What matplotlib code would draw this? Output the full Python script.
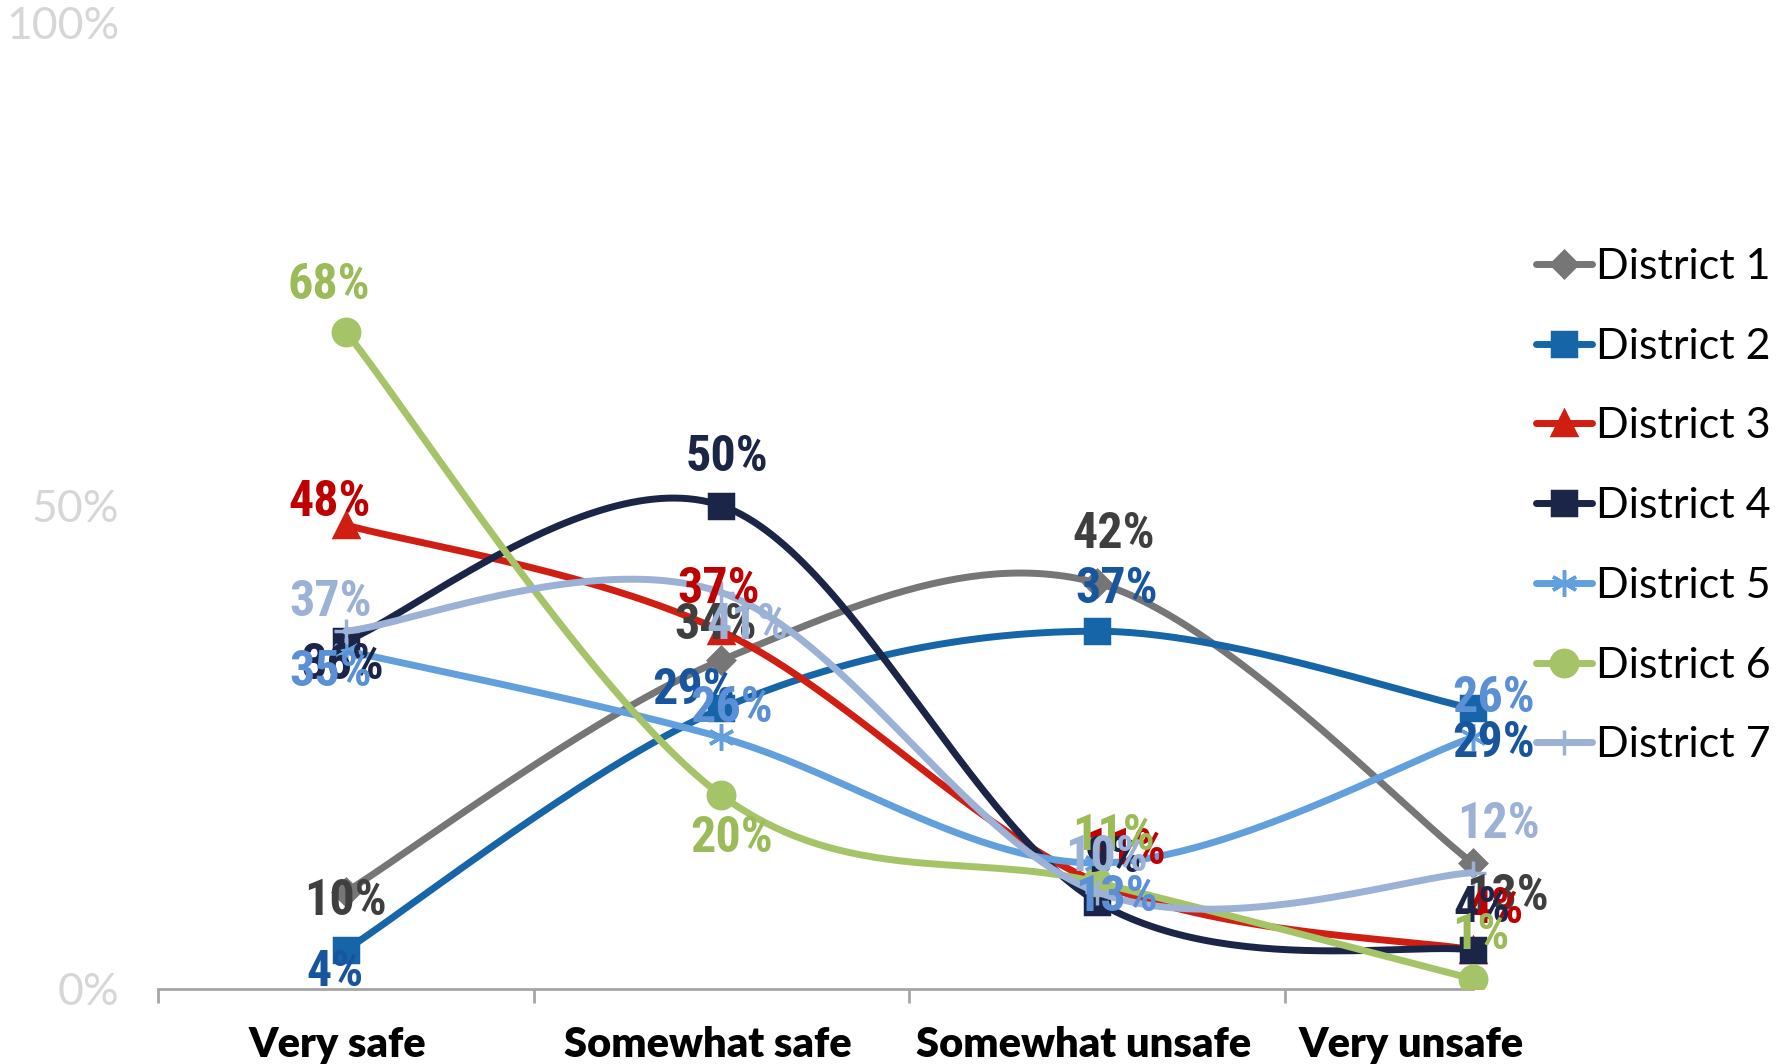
import numpy as np
import matplotlib
matplotlib.use("Agg")
import matplotlib.pyplot as plt
from matplotlib.lines import Line2D

categories = ["Very safe", "Somewhat safe", "Somewhat unsafe", "Very unsafe"]
names = ["District 1", "District 2", "District 3", "District 4",
         "District 5", "District 6", "District 7"]
d1 = [10, 34, 42, 13]
d2 = [4, 29, 37, 29]
d3 = [48, 37, 11, 4]
d4 = [36, 50, 9, 4]
d5 = [35, 26, 13, 26]
d6 = [68, 20, 11, 1]
d7 = [37, 41, 10, 12]
series = [d1, d2, d3, d4, d5, d6, d7]

line_colors = ["#767676", "#1565A8", "#D01E12", "#1B2548", "#62A0DD", "#A5C468", "#9BB1D6"]
label_colors = ["#3F3F3F", "#17569E", "#C00000", "#1B2548", "#5B8FD6", "#9BBB59", "#9BB1D6"]
markers = ["D", "s", "^", "s", (6, 2, 0), "o", "+"]
msizes = [13, 17, 17, 17, 19, 19, 18]

# label offsets in points (dx, dy) per district per category
offsets = [
    [(0, -7), (-4, 25), (12, 35), (25, -24)],
    [(-8, -16), (-20, 13), (14, 30), (15, -25)],
    [(-12, 16), (-2, 30), (20, 23), (16, 29)],
    [(-2, -18), (4, 35), (12, 31), (7, 30)],
    [(-11, -16), (7, 21), (14, -25), (15, 28)],
    [(-12, 33), (7, -31), (12, 33), (6, 31)],
    [(-11, 21), (19, -24), (7, 25), (19, 35)],
]
# horizontal nudge of the category names, points
cat_shift = [-6, -10, -10, -44]

label_font = ["Roboto Condensed", "Liberation Sans Narrow", "Liberation Sans", "DejaVu Sans"]


def smooth(y, n=60):
    # Excel-style bezier smoothing through the points
    x = np.arange(len(y), dtype=float)
    y = np.asarray(y, dtype=float)
    P = np.column_stack([x, y])
    P = np.vstack([P[0], P, P[-1]])
    out = []
    t = np.linspace(0, 1, n)[:, None]
    for i in range(1, len(P) - 2):
        p0, p1 = P[i], P[i + 1]
        c1 = p0 + (P[i + 1] - P[i - 1]) / 6
        c2 = p1 - (P[i + 2] - P[i]) / 6
        seg = (1 - t) ** 3 * p0 + 3 * (1 - t) ** 2 * t * c1 + 3 * (1 - t) * t ** 2 * c2 + t ** 3 * p1
        out.append(seg)
    out = np.vstack(out)
    return out[:, 0], out[:, 1]


fig = plt.figure(figsize=(17.9, 10.64), dpi=100)
ax = fig.add_axes([0.0883, 0.0709, 0.8393, 0.9077])
ax.set_xlim(-0.5, 3.5)
ax.set_ylim(0, 100)

xs = np.arange(len(categories))
for i, s in enumerate(series):
    sx, sy = smooth(s)
    ax.plot(sx, sy, color=line_colors[i], lw=5, solid_capstyle="round", zorder=2 + i)
    ax.plot(xs, s, ls="none", marker=markers[i], ms=msizes[i], color=line_colors[i],
            mec=line_colors[i], mew=2.5, zorder=2 + i)

for i, s in enumerate(series):
    for j, v in enumerate(s):
        ax.annotate(f"{v}%", (xs[j], v), xytext=offsets[i][j], textcoords="offset points",
                    ha="center", va="center", fontsize=36, fontweight="bold",
                    family=label_font, color=label_colors[i], zorder=20)

for sp in ["top", "right", "left"]:
    ax.spines[sp].set_visible(False)
ax.spines["bottom"].set_color("#A6A6A6")
ax.spines["bottom"].set_linewidth(2)
ax.spines["bottom"].set_bounds(-0.5, 3)

# category names
ax.set_xticks(xs)
ax.set_xticklabels([])
ax.tick_params(axis="x", which="major", length=0)
for j, c in enumerate(categories):
    ax.annotate(c, (xs[j], 0), xycoords=("data", "axes fraction"),
                xytext=(cat_shift[j], -49), textcoords="offset points",
                ha="center", va="baseline", fontsize=30, fontweight="heavy",
                family=["Lato", "DejaVu Sans"], annotation_clip=False)
ax.set_xticks([-0.5, 0.5, 1.5, 2.5], minor=True)
ax.tick_params(axis="x", which="minor", length=10, width=2, color="#A6A6A6")

ax.set_yticks([0, 50, 100])
ax.set_yticklabels(["0%", "50%", "100%"], fontsize=32, color="#D6D6D6",
                   family=["Lato", "DejaVu Sans"], fontweight="normal")
ax.tick_params(axis="y", length=0, pad=28)

handles = [Line2D([], [], color=line_colors[i], lw=5, marker=markers[i], ms=msizes[i],
                  mec=line_colors[i], mew=2.5, solid_capstyle="round") for i in range(7)]
fig.legend(handles, names, loc="upper left", bbox_to_anchor=(0.858, 0.767),
           frameon=False, prop={"family": "Lato", "size": 31},
           handlelength=1.3, handletextpad=0.1, labelspacing=0.97,
           borderpad=0, borderaxespad=0, numpoints=1)

fig.savefig("out.png", dpi=100)
